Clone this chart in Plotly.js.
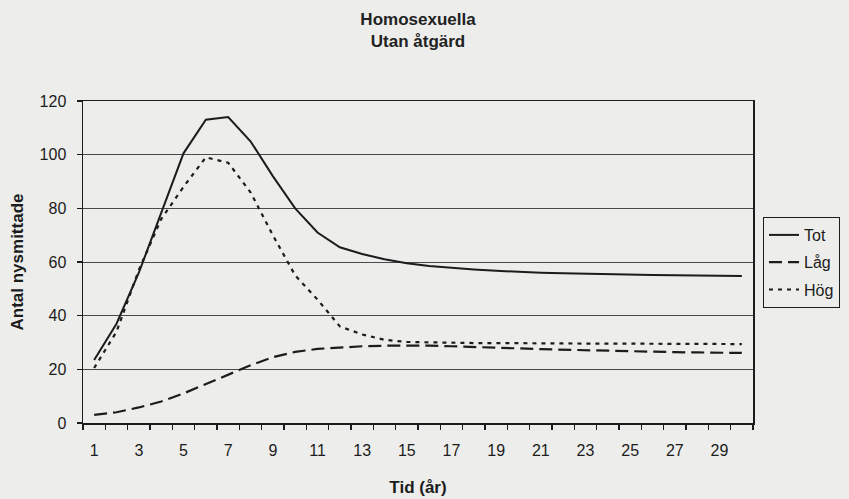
<!DOCTYPE html>
<html>
<head>
<meta charset="utf-8">
<script src="https://cdn.plot.ly/plotly-3.0.1.min.js"></script>
<style>html,body{margin:0;padding:0;background:#ededeb;}#chart{width:849px;height:499px;}</style>
</head>
<body>
<div id="chart"></div>
<script>
const years = [1,2,3,4,5,6,7,8,9,10,11,12,13,14,15,16,17,18,19,20,21,22,23,24,25,26,27,28,29,30];
const tot = [23.5,37,56,78,100.5,113,114,105,92,80,71,65.5,63,61,59.5,58.5,57.8,57.2,56.7,56.3,56,55.8,55.6,55.4,55.3,55.2,55.1,55,54.9,54.8];
const lag = [3,4,5.8,8,11,14.5,17.8,21.5,24.5,26.5,27.6,28.2,28.6,28.8,28.9,28.8,28.6,28.4,28.1,27.8,27.5,27.3,27,26.8,26.6,26.5,26.4,26.3,26.2,26.1];
const hog = [20.5,34,57,76,88,99,97,86,70,55,46,36,33,31,30.2,30,29.9,29.8,29.8,29.7,29.7,29.6,29.6,29.6,29.5,29.5,29.5,29.5,29.4,29.4];
const xTickVals = [1,3,5,7,9,11,13,15,17,19,21,23,25,27,29];
const yTickVals = [0,20,40,60,80,100,120];
const names = ['Tot','Låg','Hög'];

const font = 'Arial, "Liberation Sans", sans-serif';
const ink = '#1c1c1c';
const bg = '#ededeb';

const traces = [
  {x: years, y: tot, name: names[0], mode: 'lines', line: {color: ink, width: 2}, legendgroup: 'a'},
  {x: years, y: lag, name: names[1], mode: 'lines', line: {color: ink, width: 2.2, dash: '13px,6px'}, legendgroup: 'b'},
  {x: years, y: hog, name: names[2], mode: 'lines', line: {color: ink, width: 2.2, dash: '4px,5px'}, legendgroup: 'c'}
];

const layout = {
  width: 849, height: 499,
  paper_bgcolor: bg, plot_bgcolor: bg,
  margin: {l: 83, r: 96, t: 101, b: 76, pad: 0, autoexpand: false},
  font: {family: font, size: 16, color: ink},
  title: {
    text: '<b>Homosexuella<br>Utan åtgärd</b>',
    font: {family: font, size: 17, color: '#222'},
    x: 0.5, xref: 'paper', xanchor: 'center',
    y: 1 - 25/499, yref: 'container', yanchor: 'top'
  },
  xaxis: {
    range: [0.5, 30.5],
    tickmode: 'array', tickvals: xTickVals, ticktext: xTickVals.map(String),
    ticks: '', showgrid: false, zeroline: false,
    showline: true, linecolor: ink, linewidth: 1.5, mirror: true,
    tickfont: {family: font, size: 16, color: ink},
    ticklabelstandoff: 12,
    minor: {tickmode: 'linear', tick0: 0.5, dtick: 1, ticks: 'outside', ticklen: 5, tickcolor: ink, tickwidth: 1.2, showgrid: false},
    title: {text: '<b>Tid (år)</b>', font: {family: font, size: 17, color: ink}, standoff: 23}
  },
  yaxis: {
    range: [0, 120],
    tickmode: 'array', tickvals: yTickVals,
    ticks: 'outside', ticklen: 5, tickcolor: ink, tickwidth: 1.2,
    showgrid: true, gridcolor: '#4a4a4a', gridwidth: 1, zeroline: false,
    showline: true, linecolor: ink, linewidth: 1.5, mirror: true,
    tickfont: {family: font, size: 16, color: ink},
    ticklabelstandoff: 7,
    title: {text: '<b>Antal nysmittade</b>', font: {family: font, size: 17, color: ink}, standoff: 11}
  },
  showlegend: true,
  legend: {
    x: (763 - 83) / 670, xanchor: 'left', xref: 'paper',
    y: (423 - 217) / 322, yanchor: 'top', yref: 'paper',
    bgcolor: bg, bordercolor: ink, borderwidth: 1,
    font: {family: font, size: 16, color: ink},
    traceorder: 'grouped', tracegroupgap: 3.5, itemwidth: 30
  }
};

Plotly.newPlot('chart', traces, layout, {staticPlot: true, displayModeBar: false});
</script>
</body>
</html>
